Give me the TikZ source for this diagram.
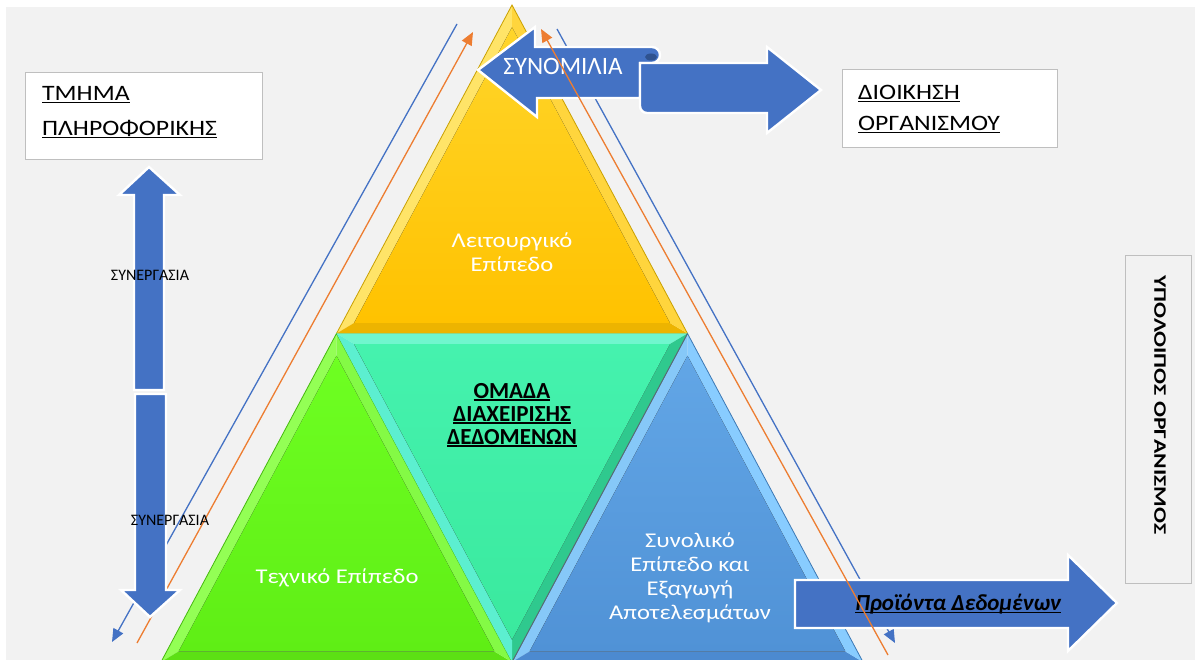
\documentclass[tikz,border=0pt]{standalone}
\usepackage{fontspec}
\setmainfont{Carlito}
\newfontfamily\widefont[FakeStretch=1.17]{Carlito}
\newfontfamily\longfont[FakeStretch=1.35]{Carlito}
\usetikzlibrary{arrows.meta,calc}

\definecolor{arrowblue}{HTML}{4472C4}
\definecolor{guideblue}{HTML}{4472C4}
\definecolor{guideorange}{HTML}{ED7D31}
\definecolor{canvasgray}{HTML}{F2F2F2}
\definecolor{boxline}{HTML}{BFBFBF}
\definecolor{scrollshade}{HTML}{2F528F}
% facet colours: bands and inner faces
\definecolor{yL}{HTML}{FFE468}\definecolor{yB}{HTML}{EDB400}\definecolor{yR}{HTML}{FFD53D}
\definecolor{yTop}{HTML}{FFD52A}\definecolor{yBot}{HTML}{FFC200}\definecolor{yEdge}{HTML}{C9A000}
\definecolor{gL}{HTML}{93FF55}\definecolor{gB}{HTML}{5CE014}\definecolor{gR}{HTML}{84FA45}
\definecolor{gTop}{HTML}{6EFF22}\definecolor{gBot}{HTML}{5FEE15}\definecolor{gEdge}{HTML}{46B80E}
\definecolor{tT}{HTML}{70F6CE}\definecolor{tR}{HTML}{2FC98E}\definecolor{tL}{HTML}{5CEFD0}
\definecolor{tTop}{HTML}{45F2AE}\definecolor{tBot}{HTML}{3AE99E}\definecolor{tEdge}{HTML}{5A6A70}
\definecolor{bL}{HTML}{86C8F8}\definecolor{bB}{HTML}{4C8AD0}\definecolor{bR}{HTML}{88CCFF}
\definecolor{bTop}{HTML}{62A6E6}\definecolor{bBot}{HTML}{5092D6}\definecolor{bEdge}{HTML}{3C78B4}

% underline drawn at a fixed depth below the baseline
\newcommand{\ulined}[2][1.1pt]{\setbox0=\hbox{#2}\rlap{\rule[-2.8pt]{\wd0}{#1}}\box0}

\newcommand{\insetk}{0.9}
% bevelled triangular facet: vertices #1 #2 #3, incentre #4,
% band colours for edges #1#2, #2#3, #3#1, then the inner face style
\newcommand{\facet}[8]{%
  \coordinate (#4#1) at ($(#4)!\insetk!(#1)$);
  \coordinate (#4#2) at ($(#4)!\insetk!(#2)$);
  \coordinate (#4#3) at ($(#4)!\insetk!(#3)$);
  \fill[#5] (#1) -- (#2) -- (#4#2) -- (#4#1) -- cycle;
  \fill[#6] (#2) -- (#3) -- (#4#3) -- (#4#2) -- cycle;
  \fill[#7] (#3) -- (#1) -- (#4#1) -- (#4#3) -- cycle;
  \fill[#8] (#4#1) -- (#4#2) -- (#4#3) -- cycle;
}

\begin{document}
\begin{tikzpicture}[x=1pt,y=-1pt,
  blockarrow/.style={fill=arrowblue, draw=white, line width=2.4pt, line join=miter},
  guide/.style={line width=1.3pt, -{Triangle[length=13pt,width=11pt]}},
  infobox/.style={draw=boxline, line width=1.2pt, fill=white, inner sep=0pt},
  boxtext/.style={font={\widefont\fontsize{22}{35}\selectfont}, align=left, inner sep=0pt, text=black},
  facettext/.style={font={\widefont\fontsize{21}{24}\selectfont}, align=center, inner sep=0pt, text=white},
  coop/.style={font={\fontsize{16}{18}\selectfont}, inner sep=0pt, text=black}]

\useasboundingbox (0,0) rectangle (1195,660);
\clip (0,0) rectangle (1195,660);
\fill[white] (0,0) rectangle (1195,660);
\fill[canvasgray] (6,7) rectangle (1195,660);

% ---------- pyramid of four facets ----------
\coordinate (P)  at (512,5);
\coordinate (BL) at (161,662);
\coordinate (BR) at (863,662);
\coordinate (BM) at (512,662);
\coordinate (ML) at ($(P)!0.5!(BL)$);
\coordinate (MR) at ($(P)!0.5!(BR)$);
\coordinate (Y) at (512,228.4);
\coordinate (G) at (336.5,556.9);
\coordinate (B) at (687.5,556.9);
\coordinate (T) at (512,438.6);

\facet{P}{ML}{MR}{Y}{yL}{yB}{yR}{top color=yTop,bottom color=yBot}
\draw[yEdge, line width=0.8pt] (P) -- (ML) -- (MR) -- cycle;
\facet{ML}{BL}{BM}{G}{gL}{gB}{gR}{top color=gTop,bottom color=gBot}
\draw[gEdge, line width=0.8pt] (ML) -- (BL) -- (BM) -- cycle;
\facet{MR}{BM}{BR}{B}{bL}{bB}{bR}{top color=bTop,bottom color=bBot}
\draw[bEdge, line width=0.8pt] (MR) -- (BM) -- (BR) -- cycle;
\facet{ML}{MR}{BM}{T}{tT}{tR}{tL}{top color=tTop,bottom color=tBot}
\draw[tEdge, line width=0.9pt] (MR) -- (BM);

% ---------- guide lines beside the pyramid ----------
\coordinate (lbTop) at (457,24);   \coordinate (lbEnd) at (112,642);
\coordinate (loStart) at (137,643); \coordinate (loTip) at (473,32);
\coordinate (rbTop) at (557,29);   \coordinate (rbEnd) at (895,643);
\coordinate (roStart) at (888,655); \coordinate (roTip) at (541,29);
\draw[guide, guideblue] (lbTop) -- (lbEnd);
\draw[guide, guideorange] (loStart) -- (loTip);
\draw[guide, guideblue] (rbTop) -- (rbEnd);

% ---------- vertical cooperation arrows ----------
\draw[blockarrow] (149,167) -- (180,195) -- (164,195) -- (164,390) -- (134,390) -- (134,195) -- (119,195) -- cycle;
\draw[blockarrow] (135,394) -- (166,394) -- (166,590) -- (180,590) -- (150,617) -- (121,590) -- (135,590) -- cycle;
\node[coop] (coopA) at (150,275) {ΣΥΝΕΡΓΑΣΙΑ};
\node[coop] (coopB) at (170,520) {ΣΥΝΕΡΓΑΣΙΑ};

% ---------- dialogue scroll arrows ----------
\draw[blockarrow] (478,70) -- (535,27) -- (535,47) -- (652,47)
  arc[start angle=-90, end angle=90, radius=8] -- (640,63) -- (640,98)
  -- (537,98) -- (537,117) -- cycle;
\draw[blockarrow] (640,63) -- (767,63) -- (767,47) -- (821,90) -- (767,133)
  -- (767,113) -- (647,113) arc[start angle=90, end angle=180, radius=7] -- cycle;
\fill[scrollshade] (651,57) ellipse[x radius=6, y radius=3.5];
\node[font={\fontsize{25}{28}\selectfont}, text=white, inner sep=0pt] (talk) at (563,66) {ΣΥΝΟΜΙΛΙΑ};

% ---------- data products arrow ----------
\draw[blockarrow] (795,580) -- (1068,580) -- (1068,555) -- (1117,603) -- (1068,651)
  -- (1068,628) -- (795,628) -- cycle;
\node[font={\bfseries\itshape\fontsize{23}{26}\selectfont}, text=black, inner sep=0pt] (products)
  at (958,604) {\ulined[1.3pt]{Προϊόντα Δεδομένων}};

\draw[guide, guideorange] (roStart) -- (roTip);

% ---------- side boxes ----------
\node[infobox, minimum width=237pt, minimum height=87pt, anchor=north west] (itbox) at (25,72) {};
\node[boxtext, anchor=west] (itlabel) at (42,112) {\ulined{ΤΜΗΜΑ}\\\ulined{ΠΛΗΡΟΦΟΡΙΚΗΣ}};
\node[infobox, minimum width=215pt, minimum height=78pt, anchor=north west] (mgmtbox) at (842,69) {};
\node[boxtext, font={\widefont\fontsize{22}{31}\selectfont}, anchor=west] (mgmtlabel) at (858,109) {\ulined{ΔΙΟΙΚΗΣΗ}\\\ulined{ΟΡΓΑΝΙΣΜΟΥ}};
\node[infobox, fill=canvasgray, minimum width=66pt, minimum height=328pt, anchor=north west] (restbox) at (1125,255) {};
\node[rotate=-90, inner sep=0pt, font={\longfont\bfseries\fontsize{17.5}{20}\selectfont}] (restlabel)
  at (1160,405) {ΥΠΟΛΟΙΠΟΣ ΟΡΓΑΝΙΣΜΟΣ};

% ---------- facet labels ----------
\node[facettext] (ops) at (512,252) {Λειτουργικό\\Επίπεδο};
\node[facettext] (tech) at (337,578) {Τεχνικό Επίπεδο};
\node[facettext] (overall) at (690,578) {Συνολικό\\Επίπεδο και\\Εξαγωγή\\Αποτελεσμάτων};
\node[font={\bfseries\fontsize{23}{23}\selectfont}, align=center, inner sep=0pt, text=black] (team)
  at (512,415) {\ulined[1.5pt]{ΟΜΑΔΑ}\\\ulined[1.5pt]{ΔΙΑΧΕΙΡΙΣΗΣ}\\\ulined[1.5pt]{ΔΕΔΟΜΕΝΩΝ}};
\end{tikzpicture}
\end{document}
